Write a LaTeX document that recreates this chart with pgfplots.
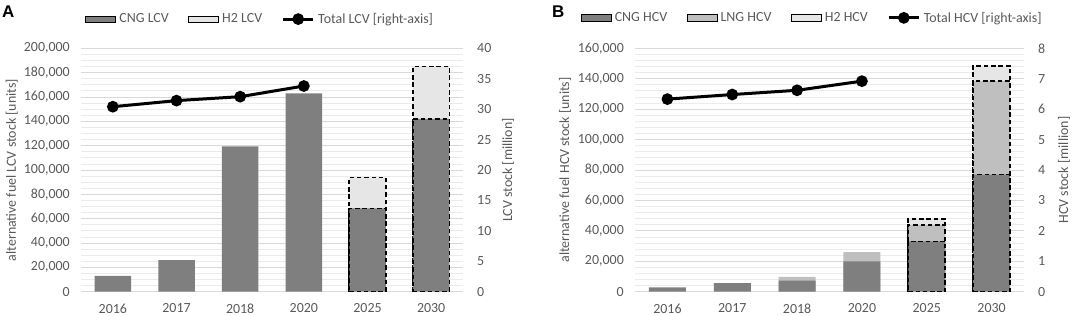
\documentclass[border=0pt]{standalone}
\usepackage{pgfplots}
\pgfplotsset{compat=1.18}
\usepackage{fontspec}
\setmainfont{Carlito}
\newfontfamily\letterfont{Liberation Sans}
\definecolor{txt}{HTML}{595959}
\definecolor{cng}{HTML}{7F7F7F}
\definecolor{lng}{HTML}{BFBFBF}
\definecolor{htwo}{HTML}{E6E6E6}
\definecolor{gmaj}{HTML}{D9D9D9}
\definecolor{gmin}{HTML}{EBEBEB}
\newcommand{\fs}{\fontsize{14}{16}\selectfont}
\pgfplotsset{
  base/.style={scale only axis, xmin=-0.5, xmax=5.5, ymin=0,
    axis line style={draw=none}, major tick length=0pt, minor tick length=0pt,
    tick style={draw=none},
    every tick label/.append style={text=txt, inner sep=0pt, font=\fs},
    /pgf/number format/fixed,
    /pgf/number format/assume math mode=true,
    /pgf/number format/1000 sep={,},
    scaled y ticks=false,
  },
  leftax/.style={base, ymajorgrids, yminorgrids,
    major grid style={gmaj, line width=0.9bp},
    minor grid style={gmin, line width=0.8bp},
    xtick={0,...,5}, xticklabels={2016,2017,2018,2020,2025,2030},
    xticklabel style={anchor=north, yshift=-12bp},
    yticklabel style={anchor=east, xshift=-11bp},
    every axis y label/.style={at={(axis description cs:#1,0.5)}, rotate=90, anchor=center, text=txt, font=\fs},
  },
  rightax/.style={base, hide x axis, yticklabel pos=right,
    yticklabel style={anchor=west, xshift=14bp},
    every axis y label/.style={at={(axis description cs:#1,0.5)}, rotate=90, anchor=center, text=txt, font=\fs},
    legend style={draw=none, fill=none, legend columns=-1, font=\fs, text=txt,
      /tikz/every even column/.append style={column sep=18bp},
      /tikz/every odd column/.append style={column sep=2bp},
      nodes={inner sep=1.5bp}},
  },
  barleg/.style={legend image code/.code={\fill[##1] (0bp,-3.2bp) rectangle (30bp,3.2bp);}},
  lineleg/.style={legend image code/.code={\draw[##1,mark repeat=2,mark phase=2] plot coordinates {(0bp,0bp) (15bp,0bp) (30bp,0bp)};}},
  actual/.style={ybar, bar width=#1, bar shift=0pt, draw=none},
  proj/.style={ybar, bar width=#1, bar shift=0pt, draw=black, line width=1.6bp, dash pattern=on 4.5bp off 2.8bp},
  tot/.style={black, line width=3bp, mark=*, mark size=4.3bp, mark options={solid, fill=black}},
}
\begin{document}
\begin{tikzpicture}
\useasboundingbox (0,0) rectangle (1072bp,316bp);
\node[anchor=base west, inner sep=0pt, font=\fontsize{17}{18}\letterfont\bfseries] at (2bp,298bp) {A};
\node[anchor=base west, inner sep=0pt, font=\fontsize{17}{18}\letterfont\bfseries] at (552bp,298bp) {B};
% ---------- Panel A ----------
\begin{axis}[leftax=-0.181, at={(81bp,24.3bp)}, anchor=south west, width=382bp, height=243.4bp,
  ymax=200000, ytick={0,20000,...,200000}, minor y tick num=3,
  ylabel={alternative fuel LCV stock [units]}]
  \addplot[proj=36.5bp, fill=htwo] coordinates {(4,94000) (5,185000)};
  \addplot[proj=36.5bp, fill=cng] coordinates {(4,68500) (5,142000)};
  \addplot[actual=36.5bp, fill=cng] coordinates {(0,13000) (1,26000) (2,119500) (3,163000)};
\end{axis}
\begin{axis}[rightax=1.118, at={(81bp,24.3bp)}, anchor=south west, width=382bp, height=243.4bp,
  ymax=40, ytick={0,5,...,40},
  ylabel={LCV stock [million]},
  legend style={at={(axis description cs:0.4686,1.12)}, anchor=center}]
  \addlegendimage{barleg, fill=cng}\addlegendentry{CNG LCV}
  \addlegendimage{barleg, fill=htwo}\addlegendentry{H2 LCV}
  \addplot[tot, lineleg] coordinates {(0,30.4) (1,31.4) (2,32.05) (3,33.8)};
  \addlegendentry{Total LCV [right-axis]}
\end{axis}
% ---------- Panel B ----------
\begin{axis}[leftax=-0.18, at={(635bp,24.3bp)}, anchor=south west, width=389bp, height=243.4bp,
  ymax=160000, ytick={0,20000,...,160000}, minor y tick num=4,
  ylabel={alternative fuel HCV stock [units]}]
  \addplot[proj=37bp, fill=htwo] coordinates {(4,47800) (5,148500)};
  \addplot[proj=37bp, fill=lng] coordinates {(4,44000) (5,138500)};
  \addplot[proj=37bp, fill=cng] coordinates {(4,33000) (5,77000)};
  \addplot[actual=37bp, fill=lng] coordinates {(2,9700) (3,26000)};
  \addplot[actual=37bp, fill=cng] coordinates {(0,2900) (1,5600) (2,7200) (3,20000)};
\end{axis}
\begin{axis}[rightax=1.103, at={(635bp,24.3bp)}, anchor=south west, width=389bp, height=243.4bp,
  ymax=8, ytick={0,1,...,8},
  ylabel={HCV stock [million]},
  legend style={at={(axis description cs:0.455,1.125)}, anchor=center}]
  \addlegendimage{barleg, fill=cng}\addlegendentry{CNG HCV}
  \addlegendimage{barleg, fill=lng}\addlegendentry{LNG HCV}
  \addlegendimage{barleg, fill=htwo}\addlegendentry{H2 HCV}
  \addplot[tot, lineleg] coordinates {(0,6.33) (1,6.48) (2,6.62) (3,6.92)};
  \addlegendentry{Total HCV [right-axis]}
\end{axis}
\end{tikzpicture}
\end{document}
